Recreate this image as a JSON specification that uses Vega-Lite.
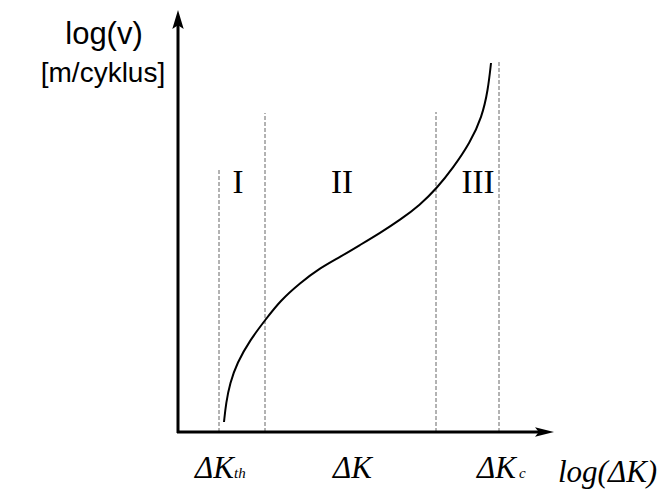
{
  "$schema": "https://vega.github.io/schema/vega-lite/v6.json",
  "width": 668,
  "height": 492,
  "padding": 0,
  "autosize": {"type": "fit", "contains": "padding"},
  "background": "white",
  "config": {"view": {"stroke": null}},
  "layer": [
    {
      "data": {"values": [
        {"x": 41, "y0": 0, "y1": 262},
        {"x": 87, "y0": 0, "y1": 319},
        {"x": 258, "y0": 0, "y1": 320},
        {"x": 321, "y0": 0, "y1": 370}
      ]},
      "mark": {"type": "rule", "color": "#666666", "strokeWidth": 1, "strokeDash": [4, 2]},
      "encoding": {
        "x": {"field": "x", "type": "quantitative", "scale": {"domain": [-178, 490], "nice": false, "zero": false}, "axis": null},
        "y": {"field": "y0", "type": "quantitative", "scale": {"domain": [-60, 432], "nice": false, "zero": false}, "axis": null},
        "y2": {"field": "y1"}
      }
    },
    {
      "data": {"values": [
        {"x": 46, "y": 10}, {"x": 48, "y": 29}, {"x": 52, "y": 49}, {"x": 59, "y": 69},
        {"x": 72, "y": 92}, {"x": 88, "y": 113}, {"x": 102, "y": 131}, {"x": 122, "y": 149},
        {"x": 142, "y": 164}, {"x": 162, "y": 175}, {"x": 182, "y": 187}, {"x": 202, "y": 199},
        {"x": 222, "y": 212}, {"x": 242, "y": 227}, {"x": 259, "y": 244}, {"x": 275, "y": 264},
        {"x": 292, "y": 289}, {"x": 304, "y": 315}, {"x": 310, "y": 342}, {"x": 313, "y": 369}
      ]},
      "mark": {"type": "line", "color": "black", "strokeWidth": 2, "interpolate": "basis"},
      "encoding": {
        "x": {"field": "x", "type": "quantitative", "axis": null},
        "y": {"field": "y", "type": "quantitative", "axis": null}
      }
    },
    {
      "data": {"values": [
        {"x": 0, "x2": 0, "y": -1, "y2": 414},
        {"x": -1, "x2": 368, "y": 0, "y2": 0}
      ]},
      "mark": {"type": "rule", "color": "black", "strokeWidth": 3},
      "encoding": {
        "x": {"field": "x", "type": "quantitative", "axis": null},
        "x2": {"field": "x2"},
        "y": {"field": "y", "type": "quantitative", "axis": null},
        "y2": {"field": "y2"}
      }
    },
    {
      "data": {"values": [{"x": 0, "y": 412.5}]},
      "mark": {"type": "point", "filled": true, "color": "black", "opacity": 1, "size": 361, "shape": "M0,-1L0.6,1L0,0.6L-0.6,1Z"},
      "encoding": {
        "x": {"field": "x", "type": "quantitative", "axis": null},
        "y": {"field": "y", "type": "quantitative", "axis": null}
      }
    },
    {
      "data": {"values": [{"x": 366.5, "y": 0}]},
      "mark": {"type": "point", "filled": true, "color": "black", "opacity": 1, "size": 361, "shape": "M1,0L-1,0.5L-0.6,0L-1,-0.5Z"},
      "encoding": {
        "x": {"field": "x", "type": "quantitative", "axis": null},
        "y": {"field": "y", "type": "quantitative", "axis": null}
      }
    },
    {
      "data": {"values": [
        {"x": 60, "y": 239, "t": "I"},
        {"x": 164, "y": 239, "t": "II"},
        {"x": 300, "y": 239, "t": "III"}
      ]},
      "mark": {"type": "text", "font": "Liberation Serif", "fontSize": 33, "align": "center", "baseline": "alphabetic", "color": "black"},
      "encoding": {
        "x": {"field": "x", "type": "quantitative", "axis": null},
        "y": {"field": "y", "type": "quantitative", "axis": null},
        "text": {"field": "t"}
      }
    },
    {
      "data": {"values": [
        {"x": 17, "y": -46, "t": "ΔK"},
        {"x": 155, "y": -46, "t": "ΔK"},
        {"x": 299, "y": -46, "t": "ΔK"},
        {"x": 380, "y": -50, "t": "log(ΔK)"}
      ]},
      "mark": {"type": "text", "font": "Liberation Serif", "fontStyle": "italic", "fontSize": 31, "align": "left", "baseline": "alphabetic", "color": "black"},
      "encoding": {
        "x": {"field": "x", "type": "quantitative", "axis": null},
        "y": {"field": "y", "type": "quantitative", "axis": null},
        "text": {"field": "t"}
      }
    },
    {
      "data": {"values": [
        {"x": 56, "y": -46, "t": "th"},
        {"x": 341, "y": -46, "t": "c"}
      ]},
      "mark": {"type": "text", "font": "Liberation Serif", "fontStyle": "italic", "fontSize": 15, "align": "left", "baseline": "alphabetic", "color": "black"},
      "encoding": {
        "x": {"field": "x", "type": "quantitative", "axis": null},
        "y": {"field": "y", "type": "quantitative", "axis": null},
        "text": {"field": "t"}
      }
    },
    {
      "data": {"values": [
        {"x": -74, "y": 388, "t": "log(v)", "s": 31},
        {"x": -75, "y": 350, "t": "[m/cyklus]", "s": 28}
      ]},
      "mark": {"type": "text", "font": "Liberation Sans", "align": "center", "baseline": "alphabetic", "color": "black"},
      "encoding": {
        "x": {"field": "x", "type": "quantitative", "axis": null},
        "y": {"field": "y", "type": "quantitative", "axis": null},
        "text": {"field": "t"},
        "size": {"field": "s", "type": "quantitative", "scale": null, "legend": null}
      }
    }
  ]
}
